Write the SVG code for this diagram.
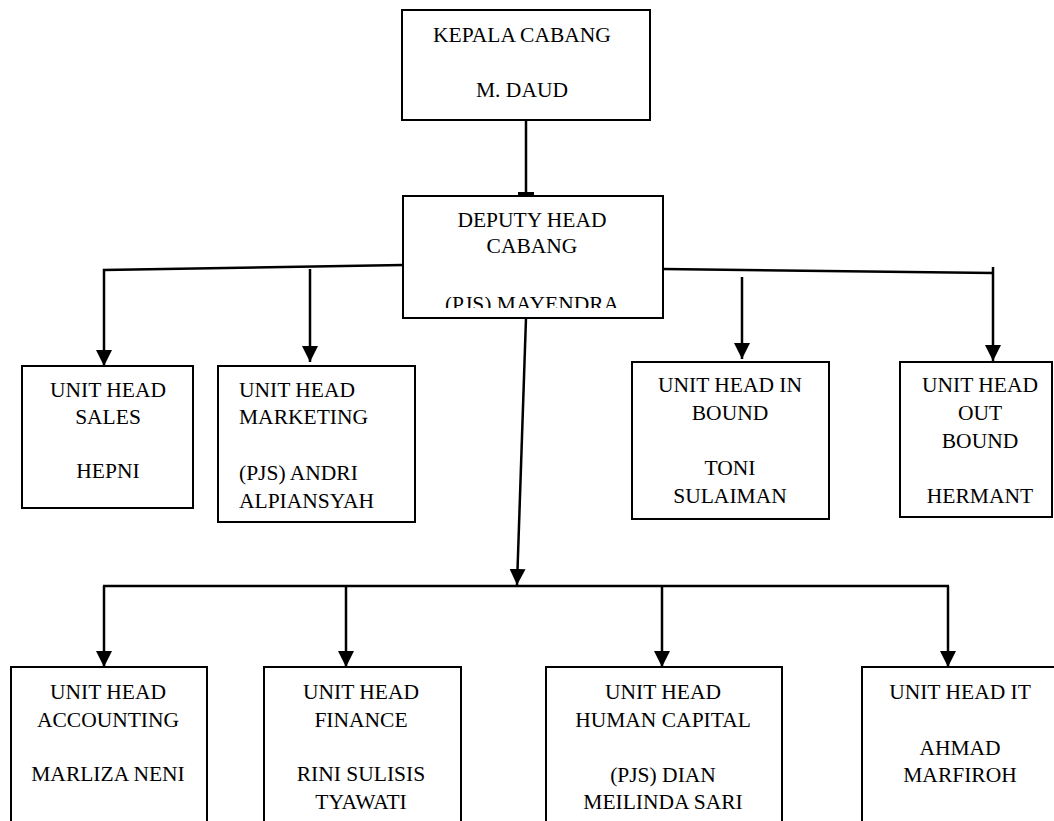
<svg xmlns="http://www.w3.org/2000/svg" width="1054" height="821" viewBox="0 0 1054 821">
<style>
.box{fill:#fff;stroke:#000;stroke-width:2}
text{font-family:'Liberation Serif','Times New Roman',serif;font-size:21.5px;fill:#000}
.c{text-anchor:middle}
.ln{fill:none;stroke:#000;stroke-width:2.5}
.ar{fill:none;stroke:#000;stroke-width:2.5;marker-end:url(#ah)}
</style>
<defs>
<marker id="ah" markerUnits="userSpaceOnUse" markerWidth="16" markerHeight="16" refX="16" refY="8" orient="auto">
<path d="M0,0 L16,8 L0,16 z" fill="#000"/>
</marker>
<clipPath id="clipM"><rect x="403" y="297" width="260" height="11"/></clipPath>
</defs>
<rect width="1054" height="821" fill="#fff"/>
<g id="connectors">
<line class="ln" x1="526" y1="120" x2="526" y2="194"/>
<rect x="518" y="192" width="16" height="3.5" fill="#000"/>
<polyline class="ar" points="403,265 104,270 104,366"/>
<line class="ar" x1="310" y1="269" x2="310" y2="362"/>
<line class="ln" x1="663" y1="269" x2="993" y2="273"/>
<line class="ar" x1="993" y1="267" x2="993" y2="361"/>
<line class="ar" x1="742" y1="277" x2="742" y2="359"/>
<line class="ar" x1="526" y1="318" x2="517" y2="585"/>
<line class="ln" x1="103" y1="586" x2="949" y2="586"/>
<line class="ar" x1="104" y1="586" x2="104" y2="667"/>
<line class="ar" x1="346" y1="586" x2="346" y2="667"/>
<line class="ar" x1="662" y1="586" x2="662" y2="667"/>
<line class="ar" x1="948" y1="586" x2="948" y2="667"/>
</g>
<g id="kepala">
<rect class="box" x="402" y="10" width="248" height="110"/>
<text class="c" x="522" y="42">KEPALA CABANG</text>
<text class="c" x="522" y="97">M. DAUD</text>
</g>
<g id="deputy">
<rect class="box" x="403" y="196" width="260" height="122"/>
<text class="c" x="532" y="227">DEPUTY HEAD</text>
<text class="c" x="532" y="253">CABANG</text>
<text class="c" x="532" y="311" clip-path="url(#clipM)">(PJS) MAYENDRA</text>
</g>
<g id="sales">
<rect class="box" x="22" y="366" width="171" height="142"/>
<text class="c" x="108" y="397">UNIT HEAD</text>
<text class="c" x="108" y="424">SALES</text>
<text class="c" x="108" y="478">HEPNI</text>
</g>
<g id="marketing">
<rect class="box" x="218" y="366" width="197" height="156"/>
<text x="239" y="397">UNIT HEAD</text>
<text x="239" y="424">MARKETING</text>
<text x="239" y="480">(PJS) ANDRI</text>
<text x="239" y="508">ALPIANSYAH</text>
</g>
<g id="inbound">
<rect class="box" x="632" y="362" width="197" height="157"/>
<text class="c" x="730" y="392">UNIT HEAD IN</text>
<text class="c" x="730" y="420">BOUND</text>
<text class="c" x="730" y="475">TONI</text>
<text class="c" x="730" y="503">SULAIMAN</text>
</g>
<g id="outbound">
<rect class="box" x="900" y="362" width="152" height="155"/>
<text class="c" x="980" y="392">UNIT HEAD</text>
<text class="c" x="980" y="420">OUT</text>
<text class="c" x="980" y="448">BOUND</text>
<text class="c" x="980" y="503">HERMANT</text>
</g>
<g id="accounting">
<rect class="box" x="11" y="667" width="196" height="170"/>
<text class="c" x="108" y="699">UNIT HEAD</text>
<text class="c" x="108" y="727">ACCOUNTING</text>
<text class="c" x="108" y="781">MARLIZA NENI</text>
</g>
<g id="finance">
<rect class="box" x="264" y="667" width="197" height="170"/>
<text class="c" x="361" y="699">UNIT HEAD</text>
<text class="c" x="361" y="727">FINANCE</text>
<text class="c" x="361" y="781">RINI SULISIS</text>
<text class="c" x="361" y="809">TYAWATI</text>
</g>
<g id="humancapital">
<rect class="box" x="546" y="667" width="236" height="170"/>
<text class="c" x="663" y="699">UNIT HEAD</text>
<text class="c" x="663" y="727">HUMAN CAPITAL</text>
<text class="c" x="663" y="782">(PJS) DIAN</text>
<text class="c" x="663" y="809">MEILINDA SARI</text>
</g>
<g id="it">
<rect class="box" x="862" y="667" width="200" height="170"/>
<text class="c" x="960" y="699">UNIT HEAD IT</text>
<text class="c" x="960" y="755">AHMAD</text>
<text class="c" x="960" y="782">MARFIROH</text>
</g>
</svg>
